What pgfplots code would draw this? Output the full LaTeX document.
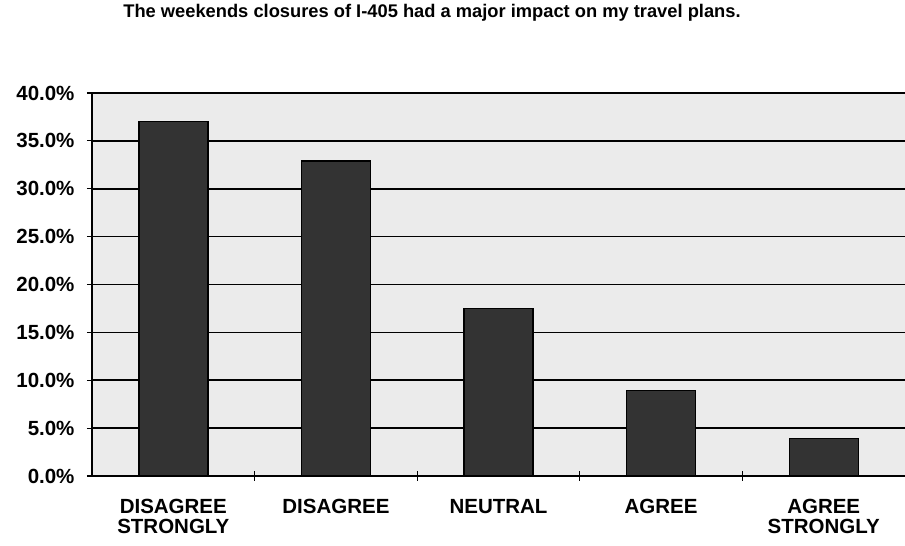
\documentclass[border=0pt]{standalone}
\usepackage{fontspec}
\setmainfont{Liberation Sans}
\usepackage{pgfplots}
\pgfplotsset{compat=1.18}
\begin{document}
\begin{tikzpicture}[x=1bp,y=1bp]
\path[use as bounding box] (0,0) rectangle (905,546);
\begin{axis}[
  at={(92bp,70bp)}, anchor=south west,
  scale only axis, width=813bp, height=383bp,
  xmin=-0.5, xmax=4.5, ymin=0, ymax=40,
  ybar, bar width=69bp,
  axis background/.style={fill=black!8},
  axis x line*=bottom, axis y line*=left,
  axis line style={black, line width=1.6bp},
  ytick={0,5,...,40},
  ymajorgrids, grid style={black, line width=1.6bp},
  yticklabel={\pgfmathprintnumber[fixed,fixed zerofill,precision=1]{\tick}\%},
  /pgf/number format/assume math mode=true,
  tick align=center, major tick length=10bp,
  tick style={black, line width=1.2bp},
  xtick={0.5,1.5,2.5,3.5}, xticklabels={},
  extra x ticks={0,1,2,3,4},
  extra x tick labels={{DISAGREE\\STRONGLY},DISAGREE,NEUTRAL,AGREE,{AGREE\\STRONGLY}},
  extra x tick style={major tick length=0pt, grid=none},
  tick label style={font=\bfseries\fontsize{20.5bp}{20bp}\selectfont},
  xticklabel style={align=center, yshift=-20bp},
  yticklabel style={xshift=-9bp},
]
\addplot[fill=black!80, draw=black, line width=1.4bp]
  coordinates {(0,37.0) (1,32.9) (2,17.5) (3,8.9) (4,3.9)};
\end{axis}
\node[font=\bfseries\fontsize{18.3bp}{21bp}\selectfont] at (432,533) {The weekends closures of I-405 had a major impact on my travel plans.};
\end{tikzpicture}
\end{document}
